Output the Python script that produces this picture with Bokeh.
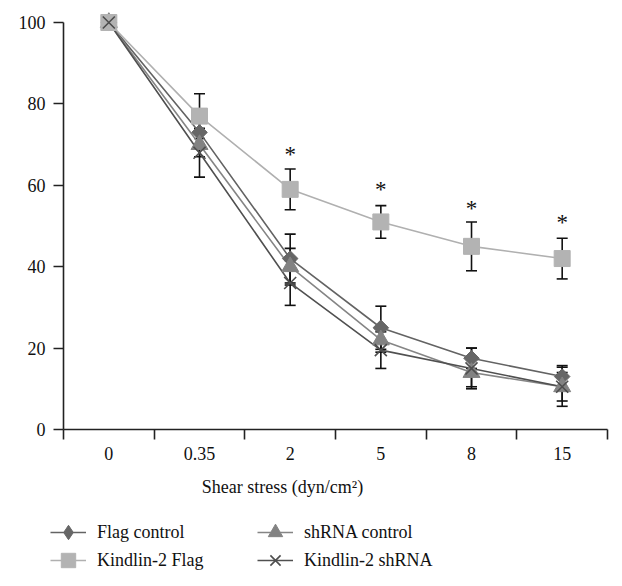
import math
from bokeh.plotting import figure
from bokeh.models import FixedTicker, Legend, LegendItem, Label
from bokeh.core.properties import value
from bokeh.embed import file_html
from bokeh.resources import INLINE

# ---- data ----
categories = ["0", "0.35", "2", "5", "8", "15"]
flag_control = [100, 73, 42, 25, 17.5, 13]
flag_control_sd = [0, 3, 6, 5.3, 2.5, 2.7]
kindlin_flag = [100, 77, 59, 51, 45, 42]
kindlin_flag_sd = [0, 5.5, 5, 4, 6, 5]
shrna_control = [100, 70, 40, 22, 14, 10.5]
shrna_control_sd = [0, 3, 4.5, 3, 3.5, 3.5]
kindlin_shrna = [100, 68, 36, 19.5, 15, 10.5]
kindlin_shrna_sd = [0, 6, 5.5, 4.5, 5, 4.8]
star_idx = [2, 3, 4, 5]
star_y = [67.5, 59, 54.3, 50.8]
y_ticks = [0, 20, 40, 60, 80, 100]

FONT = "Liberation Serif, Times New Roman, serif"
xs = [i + 0.5 for i in range(len(categories))]

W, H = 614, 580
X0PX, CATPX = 63.0, 90.67       # pixel of x=0, pixels per category
Y0PX, YPX = 429.0, 4.07         # pixel of y=0, pixels per unit
x_start = -X0PX / CATPX
x_end = (W - X0PX) / CATPX
y_end = Y0PX / YPX
y_start = -(H - Y0PX) / YPX

p = figure(width=W, height=H, x_range=(x_start, x_end), y_range=(y_start, y_end),
           output_backend="svg", toolbar_location=None,
           min_border=0, min_border_left=0, min_border_right=0,
           min_border_top=0, min_border_bottom=0)
p.outline_line_color = None
p.grid.visible = False
p.background_fill_color = "white"
p.border_fill_color = "white"

# axes at fixed data locations so that everything lies in the frame
p.yaxis.fixed_location = 0
p.xaxis.fixed_location = 0
p.yaxis.bounds = (0, 100)
p.xaxis.bounds = (0, 6)
p.yaxis.ticker = FixedTicker(ticks=y_ticks)
p.yaxis.major_tick_out = 10
p.yaxis.major_tick_in = 0
p.yaxis.major_label_standoff = 8
p.xaxis.ticker = FixedTicker(ticks=xs, minor_ticks=list(range(7)))
p.xaxis.major_label_overrides = {x: c for x, c in zip(xs, categories)}
p.xaxis.major_tick_out = 0
p.xaxis.major_tick_in = 0
p.xaxis.minor_tick_out = 10
p.xaxis.minor_tick_in = 0
p.xaxis.major_label_standoff = 7
for ax in (p.xaxis, p.yaxis):
    ax.axis_line_width = 1.6
    ax.axis_line_color = "#222222"
    ax.major_tick_line_width = 1.6
    ax.major_tick_line_color = "#222222"
    ax.minor_tick_line_width = 1.6
    ax.major_label_text_font = FONT
    ax.major_label_text_font_size = "18px"
    ax.major_label_text_color = "#111111"
p.xaxis.minor_tick_line_color = "#222222"
p.yaxis.minor_tick_line_color = None

series = [
    ("Flag control", flag_control, flag_control_sd, "#636363",
     dict(marker="square", angle=math.pi / 4, size=11, fill_color="#666666", line_color="#666666"),
     dict(marker="diamond", fill_color="#666666", line_color="#666666")),
    ("shRNA control", shrna_control, shrna_control_sd, "#858585",
     dict(marker="triangle", size=17, fill_color="#828282", line_color="#828282"), None),
    ("Kindlin-2 Flag", kindlin_flag, kindlin_flag_sd, "#b0b0b0",
     dict(marker="square", size=16, fill_color="#b3b3b3", line_color="#b3b3b3"), None),
    ("Kindlin-2 shRNA", kindlin_shrna, kindlin_shrna_sd, "#505050",
     dict(marker="x", size=17, line_color="#4d4d4d", line_width=1.6), None),
]

# error bars (behind)
for name, vals, sd, col, mk, lmk in series:
    idx = [i for i in range(len(vals)) if sd[i] > 0]
    x = [xs[i] for i in idx]
    lo = [vals[i] - sd[i] for i in idx]
    hi = [vals[i] + sd[i] for i in idx]
    p.segment(x0=x, y0=lo, x1=x, y1=hi, line_color="#111111", line_width=1.6)
    p.scatter(x=x + x, y=lo + hi, marker="dash", size=11, line_color="#111111", line_width=1.6)

lines = {}
for name, vals, sd, col, mk, lmk in series:
    lines[name] = p.line(xs, vals, line_color=col, line_width=1.6)
marks = {}
for name, vals, sd, col, mk, lmk in series:
    marks[name] = p.scatter(xs, vals, **mk)
    if lmk is not None:
        # same data, shown only as the legend's symbol
        marks[name] = p.scatter(xs, vals, visible=False, **lmk)

# asterisks
p.text(x=[xs[i] for i in star_idx], y=star_y, text=["*"] * len(star_idx),
       text_font=value(FONT), text_font_size="23px", text_align="center",
       text_baseline="middle", text_color="#111111")

# axis label
p.add_layout(Label(x=(282 - X0PX) / CATPX, y=-(486 - Y0PX) / YPX,
                   text="Shear stress (dyn/cm²)", text_font=FONT,
                   text_font_size="18px", text_align="center", text_baseline="middle",
                   text_color="#111111"))

def make_legend(name, loc):
    items = [LegendItem(label=name, renderers=[lines[name], marks[name]])]
    lg = Legend(items=items, location=loc, orientation="vertical",
                glyph_width=36, glyph_height=40, label_height=20, spacing=0,
                label_standoff=11, padding=0, margin=0,
                border_line_color=None, background_fill_alpha=0,
                label_text_font=FONT, label_text_font_size="18px",
                label_text_color="#111111")
    p.add_layout(lg)

make_legend("Flag control", (50, 28))
make_legend("Kindlin-2 Flag", (50, 0))
make_legend("shRNA control", (257, 28))
make_legend("Kindlin-2 shRNA", (257, 0))

open("out.html", "w").write(file_html(p, INLINE))
